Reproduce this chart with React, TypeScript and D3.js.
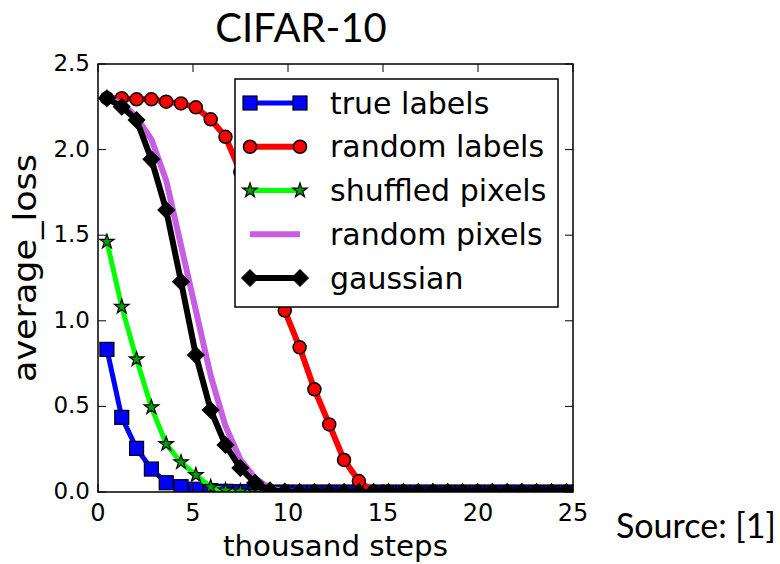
import React from "react";
import * as d3 from "d3";

// thousand steps (one marker per epoch)
const steps = [0.47, 1.25, 2.03, 2.81, 3.59, 4.37, 5.15, 5.93, 6.71, 7.49, 8.27, 9.05, 9.83, 10.61, 11.39, 12.17,
  12.95, 13.73, 14.51, 15.29, 16.07, 16.85, 17.63, 18.41, 19.19, 19.97, 20.75, 21.53, 22.31, 23.09, 23.87, 24.65];

const trueLabels = [0.833, 0.436, 0.255, 0.134, 0.054, 0.031, 0.016, 0.008, 0.004, 0.002, 0, 0, 0, 0, 0, 0,
  0, 0, 0, 0, 0, 0, 0, 0, 0, 0, 0, 0, 0, 0, 0, 0];
const randomLabels = [2.3, 2.3, 2.294, 2.294, 2.28, 2.27, 2.247, 2.177, 2.075, 1.87, 1.64, 1.36, 1.06, 0.845, 0.6, 0.395,
  0.187, 0.064, 0, 0, 0, 0, 0, 0, 0, 0, 0, 0, 0, 0, 0, 0];
const shuffledPixels = [1.462, 1.082, 0.775, 0.495, 0.28, 0.174, 0.099, 0.029, 0.01, 0.004, 0, 0, 0, 0, 0, 0,
  0, 0, 0, 0, 0, 0, 0, 0, 0, 0, 0, 0, 0, 0, 0, 0];
const randomPixels = [2.3, 2.27, 2.19, 2.06, 1.82, 1.44, 1.06, 0.68, 0.385, 0.19, 0.08, 0.02, 0.005, 0, 0, 0,
  0, 0, 0, 0, 0, 0, 0, 0, 0, 0, 0, 0, 0, 0, 0, 0];
const gaussian = [2.3, 2.25, 2.173, 1.943, 1.647, 1.228, 0.8, 0.479, 0.275, 0.14, 0.053, 0.01, 0.002, 0, 0, 0,
  0, 0, 0, 0, 0, 0, 0, 0, 0, 0, 0, 0, 0, 0, 0, 0];

const seriesNames = ["true labels", "random labels", "shuffled pixels", "random pixels", "gaussian"];
const xTicks = [0, 5, 10, 15, 20, 25];
const yTicks = [0, 0.5, 1.0, 1.5, 2.0, 2.5];

const styles = [
  { values: trueLabels, color: "#0000ff", marker: "square", fill: "#0000ff", width: 5 },
  { values: randomLabels, color: "#ff0000", marker: "circle", fill: "#ff0000", width: 6 },
  { values: shuffledPixels, color: "#00ff00", marker: "star", fill: "#00a000", width: 5 },
  { values: randomPixels, color: "#c55ee0", marker: "none", fill: "none", width: 6 },
  { values: gaussian, color: "#000000", marker: "diamond", fill: "#000000", width: 6 },
];

const margin = { top: 64, left: 98, right: 207, bottom: 72 };
const W = 780;
const H = 564;
const mpl = "'DejaVu Sans', sans-serif";

function Marker({ type, x, y, fill }: { type: string; x: number; y: number; fill: string }) {
  if (type === "square") {
    return <rect x={x - 7} y={y - 7} width={14} height={14} fill={fill} stroke="#000" strokeWidth={1.2} />;
  }
  if (type === "circle") {
    return <circle cx={x} cy={y} r={6.5} fill={fill} stroke="#000" strokeWidth={1.5} />;
  }
  if (type === "star") {
    const d = d3.symbol(d3.symbolStar, 65)() as string;
    return <path d={d} transform={`translate(${x},${y})`} fill={fill} stroke="#000" strokeWidth={1.2} />;
  }
  if (type === "diamond") {
    const d = d3.symbol(d3.symbolSquare, 140)() as string;
    return <path d={d} transform={`translate(${x},${y}) rotate(45)`} fill={fill} stroke="#000" strokeWidth={1} />;
  }
  return null;
}

export default function App() {
  const x = d3.scaleLinear().domain([0, 25]).range([margin.left, W - margin.right]);
  const y = d3.scaleLinear().domain([0, 2.5]).range([H - margin.bottom, margin.top]);
  const line = d3
    .line<number>()
    .x((_, i) => x(steps[i]))
    .y((d) => y(d));

  const [x0, x1] = x.range();
  const [y0, y1] = y.range();

  const legendX = 235;
  const legendY = 79;
  const rowH = 43.75;

  return (
    <div style={{ position: "absolute", left: 0, top: 0 }}>
      <svg width={W} height={H} style={{ display: "block", background: "#fff" }}>
        <defs>
          <clipPath id="plotClip">
            <rect x={x0} y={y1} width={x1 - x0} height={y0 - y1} />
          </clipPath>
        </defs>

        <text x={301} y={42} textAnchor="middle" fontFamily="Lato, sans-serif" fontSize={40} fill="#000">
          CIFAR-10
        </text>

        <g clipPath="url(#plotClip)">
          {styles.map((s, k) => (
            <g key={k}>
              <path d={line(s.values) as string} fill="none" stroke={s.color} strokeWidth={s.width} strokeLinejoin="round" />
              {s.values.map((v, i) => (
                <Marker key={i} type={s.marker} x={x(steps[i])} y={y(v)} fill={s.fill} />
              ))}
            </g>
          ))}
        </g>

        {/* frame and inward ticks */}
        <rect x={x0} y={y1} width={x1 - x0} height={y0 - y1} fill="none" stroke="#000" strokeWidth={1.5} />
        {xTicks.map((t) => (
          <g key={"xt" + t}>
            <line x1={x(t)} x2={x(t)} y1={y0} y2={y0 - 8} stroke="#000" strokeWidth={1} />
            <line x1={x(t)} x2={x(t)} y1={y1} y2={y1 + 8} stroke="#000" strokeWidth={1} />
            <text x={x(t)} y={521} textAnchor="middle" fontFamily={mpl} fontSize={24} fill="#000">
              {t}
            </text>
          </g>
        ))}
        {yTicks.map((t) => (
          <g key={"yt" + t}>
            <line x1={x0} x2={x0 + 8} y1={y(t)} y2={y(t)} stroke="#000" strokeWidth={1} />
            <line x1={x1} x2={x1 - 8} y1={y(t)} y2={y(t)} stroke="#000" strokeWidth={1} />
            <text x={90} y={y(t) + 7} textAnchor="end" fontFamily={mpl} fontSize={23} fill="#000">
              {t.toFixed(1)}
            </text>
          </g>
        ))}

        <text
          x={(x0 + x1) / 2}
          y={556}
          textAnchor="middle"
          fontFamily={mpl}
          fontSize={28}
          textLength={225}
          lengthAdjust="spacingAndGlyphs"
          fill="#000"
        >
          thousand steps
        </text>
        <text
          transform={`translate(36,268) rotate(-90)`}
          textAnchor="middle"
          fontFamily={mpl}
          fontSize={32}
          textLength={228}
          lengthAdjust="spacingAndGlyphs"
          fill="#000"
        >
          average_loss
        </text>

        {/* legend */}
        <rect x={legendX} y={legendY} width={323} height={228} fill="#fff" stroke="#000" strokeWidth={1.5} />
        {styles.map((s, k) => {
          const ry = legendY + 24 + k * rowH;
          return (
            <g key={"lg" + k}>
              <line x1={250} x2={300} y1={ry} y2={ry} stroke={s.color} strokeWidth={s.width} />
              <Marker type={s.marker} x={250} y={ry} fill={s.fill} />
              <Marker type={s.marker} x={300} y={ry} fill={s.fill} />
              <text x={330} y={ry} dominantBaseline="central" fontFamily={mpl} fontSize={30} fill="#000">
                {seriesNames[k]}
              </text>
            </g>
          );
        })}

        <text x={616} y={538} fontFamily="Lato, sans-serif" fontSize={34} fill="#000">
          Source: [1]
        </text>
      </svg>
    </div>
  );
}
